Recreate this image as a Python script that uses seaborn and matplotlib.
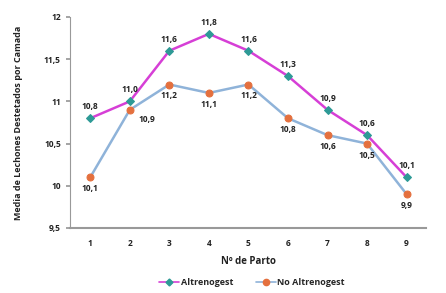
import matplotlib
matplotlib.use("Agg")
import matplotlib.pyplot as plt
import seaborn as sns
import pandas as pd
from matplotlib.lines import Line2D

partos = [1, 2, 3, 4, 5, 6, 7, 8, 9]
altrenogest = [10.8, 11.0, 11.6, 11.8, 11.6, 11.3, 10.9, 10.6, 10.1]
no_altrenogest = [10.1, 10.9, 11.2, 11.1, 11.2, 10.8, 10.6, 10.5, 9.9]
y_ticks = [9.5, 10, 10.5, 11, 11.5, 12]
y_tick_labels = ["9,5", "10", "10,5", "11", "11,5", "12"]

sns.set_theme(style="white")
plt.rcParams['font.family'] = ['Open Sans', 'DejaVu Sans']

df = pd.DataFrame({
    "Parto": partos * 2,
    "Valor": altrenogest + no_altrenogest,
    "Serie": ["Altrenogest"] * len(partos) + ["No Altrenogest"] * len(partos),
})

line_colors = {"Altrenogest": "#D63FD6", "No Altrenogest": "#8FB3D9"}
marker_colors = {"Altrenogest": "#2E9A96", "No Altrenogest": "#E4703E"}
markers = {"Altrenogest": "D", "No Altrenogest": "o"}
msizes = {"Altrenogest": 4, "No Altrenogest": 5}

fig = plt.figure(figsize=(4.46, 2.93), dpi=100)
ax = fig.add_axes([0.158, 0.222, 0.798, 0.72])

for serie in ["No Altrenogest", "Altrenogest"]:
    sub = df[df["Serie"] == serie]
    sns.lineplot(data=sub, x="Parto", y="Valor", ax=ax, color=line_colors[serie],
                 linewidth=1.8, marker=markers[serie], markersize=msizes[serie],
                 markerfacecolor=marker_colors[serie], markeredgecolor=marker_colors[serie],
                 legend=False, zorder=3)

fmt = lambda v: f"{v:.1f}".replace(".", ",")
for i, (x, a, n) in enumerate(zip(partos, altrenogest, no_altrenogest)):
    ax.annotate(fmt(a), (x, a), xytext=(0, 5), textcoords="offset points",
                ha="center", va="bottom", fontsize=6, fontweight="bold", color="#222222")
    if x == 2:
        ax.annotate(fmt(n), (x, n), xytext=(12, -4), textcoords="offset points",
                    ha="center", va="top", fontsize=6, fontweight="bold", color="#222222")
    else:
        ax.annotate(fmt(n), (x, n), xytext=(0, -5), textcoords="offset points",
                    ha="center", va="top", fontsize=6, fontweight="bold", color="#222222")

ax.set_xlim(0.5, 9.5)
ax.set_ylim(9.5, 12)
ax.set_xticks(partos)
ax.set_xticklabels([str(p) for p in partos], fontsize=6, fontweight="bold", color="#222222")
ax.set_xticks([p + 0.5 for p in partos[:-1]], minor=True)
ax.set_yticks(y_ticks)
ax.set_yticklabels(y_tick_labels, fontsize=6, fontweight="bold", color="#222222")
ax.tick_params(axis="x", which="major", length=0, pad=8)
ax.tick_params(axis="x", which="minor", length=3, direction="in", color="#999999")
ax.tick_params(axis="y", which="major", length=3, direction="out", color="#999999", pad=4)
ax.yaxis.set_tick_params(left=True)

for s in ["top", "right"]:
    ax.spines[s].set_visible(False)
ax.spines["left"].set_color("#999999")
ax.spines["left"].set_linewidth(0.8)
ax.spines["bottom"].set_color("#999999")
ax.spines["bottom"].set_linewidth(1.5)

ax.set_xlabel("Nº de Parto", fontsize=7, fontweight="bold", color="#222222", labelpad=6)
ax.set_ylabel("Media de Lechones Destetados por Camada", fontsize=6.5, fontweight="bold",
              color="#222222", labelpad=15)

handles = [
    Line2D([0], [0], color=line_colors["Altrenogest"], lw=1.2, marker="D", markersize=3.5,
           markerfacecolor=marker_colors["Altrenogest"], markeredgecolor=marker_colors["Altrenogest"]),
    Line2D([0], [0], color=line_colors["No Altrenogest"], lw=1.2, marker="o", markersize=4.5,
           markerfacecolor=marker_colors["No Altrenogest"], markeredgecolor=marker_colors["No Altrenogest"]),
]
fig.legend(handles, ["Altrenogest", "No Altrenogest"], loc="center", bbox_to_anchor=(0.565, 0.035),
           ncol=2, frameon=False, prop={"weight": "bold", "size": 6.5},
           handlelength=2.2, columnspacing=2.5, handletextpad=0.2)

fig.savefig("out.png", dpi=100)
